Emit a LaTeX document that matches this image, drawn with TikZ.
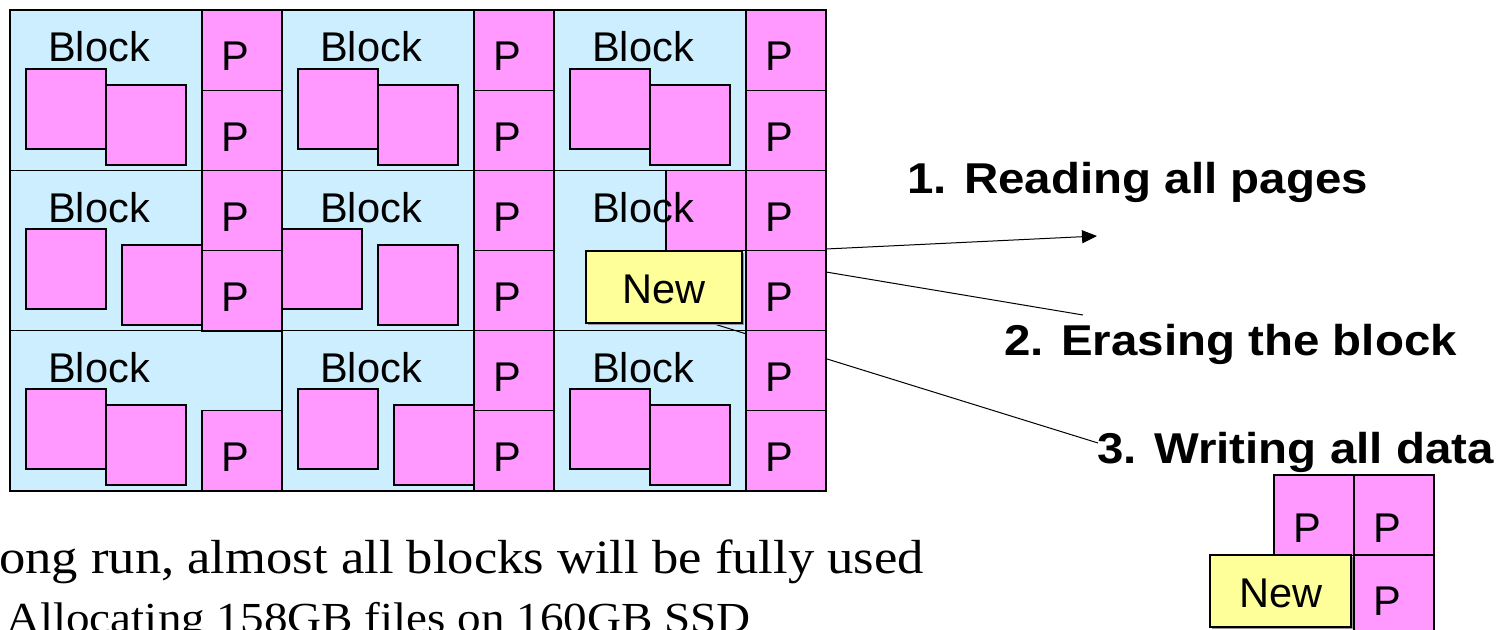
\documentclass[tikz,border=0pt]{standalone}
\usepackage{fontspec}
\setmainfont{Liberation Serif}
\newfontfamily\arialf{Liberation Sans}
\newfontfamily\labelfont{Liberation Sans}[FakeStretch=1.1]
\newfontfamily\serifst{Liberation Serif}[FakeStretch=1.1]
\usetikzlibrary{arrows.meta}
\definecolor{cyanbg}{RGB}{204,238,255}
\definecolor{pinkc}{RGB}{255,153,255}
\definecolor{yel}{RGB}{255,255,153}
\definecolor{shadowc}{RGB}{150,150,150}
\tikzset{
  blk/.style={draw=black, fill=cyanbg, line width=1.2bp, minimum width=192bp, minimum height=160.4bp, anchor=north west, inner sep=0pt, outer sep=0pt},
  sq/.style={draw=black, fill=pinkc, line width=1.2bp, minimum width=80bp, minimum height=80bp, anchor=north west, inner sep=0pt, outer sep=0pt},
  pcell/.style={draw=black, fill=pinkc, line width=1.2bp, minimum width=80bp, minimum height=80.2bp, anchor=north west, inner sep=0pt, outer sep=0pt},
  gtxt/.style={font=\arialf\fontsize{41.7}{42}\selectfont, anchor=base, inner sep=0pt},
  newbox/.style={draw=black, fill=yel, line width=1.2bp, minimum height=72bp, anchor=north west, inner sep=0pt, outer sep=0pt},
  shadowbox/.style={fill=shadowc, minimum height=72bp, anchor=north west, inner sep=0pt, outer sep=0pt},
  lbl/.style={font=\labelfont\bfseries\fontsize{43.3}{44}\selectfont, anchor=base west, inner sep=0pt},
  conn/.style={line width=1bp, draw=black},
  bodytxt/.style={anchor=base west, inner sep=0pt},
}
\begin{document}
\begin{tikzpicture}[x=1bp,y=-1bp]
\clip (0,0) rectangle (1501,630);
\fill[white] (0,0) rectangle (1501,630);

% block regions
\node[blk] (blk11) at (10,10) {};
\node[blk] (blk12) at (282,10) {};
\node[blk] (blk13) at (554,10) {};
\node[blk] (blk21) at (10,170.5) {};
\node[blk] (blk22) at (282,170.5) {};
\node[blk] (blk23) at (554,170.5) {};
\node[blk, minimum width=272bp] (blk31) at (10,330.8) {};
\node[blk] (blk32) at (282,330.8) {};
\node[blk] (blk33) at (554,330.8) {};

% connector 3 (passes under the page column)
\coordinate (c3s) at (711,323);
\coordinate (c3e) at (1098,443);
\draw[conn] (c3s) -- (c3e);

% pages inside blocks
\node[sq] (s11a) at (26,69) {};
\node[sq] (s11b) at (106,85) {};
\node[sq] (s12a) at (298,69) {};
\node[sq] (s12b) at (378,85) {};
\node[sq] (s13a) at (570,69) {};
\node[sq] (s13b) at (650,85) {};
\node[sq] (s21a) at (26,229) {};
\node[sq] (s21b) at (122,245) {};
\node[sq] (s22a) at (282,229) {};
\node[sq] (s22b) at (378,245) {};
\node[sq] (s23a) at (666,170.5) {};
\node[sq] (s31a) at (26,389) {};
\node[sq] (s31b) at (106,405) {};
\node[sq] (s32a) at (298,389) {};
\node[sq] (s32b) at (394,405) {};
\node[sq] (s33a) at (570,389) {};
\node[sq] (s33b) at (650,405) {};

% page columns
\node[pcell] (p11a) at (202,10) {};
\node[pcell] (p11b) at (202,90.2) {};
\node[pcell] (p12a) at (474,10) {};
\node[pcell] (p12b) at (474,90.2) {};
\node[pcell] (p13a) at (746,10) {};
\node[pcell] (p13b) at (746,90.2) {};
\node[pcell] (p21a) at (202,170.5) {};
\node[pcell] (p21b) at (202,250.7) {};
\node[pcell] (p22a) at (474,170.5) {};
\node[pcell] (p22b) at (474,250.7) {};
\node[pcell] (p23a) at (746,170.5) {};
\node[pcell] (p23b) at (746,250.7) {};
\node[pcell] (p31b) at (202,410.8) {};
\node[pcell] (p32a) at (474,330.8) {};
\node[pcell] (p32b) at (474,410.8) {};
\node[pcell] (p33a) at (746,330.8) {};
\node[pcell] (p33b) at (746,410.8) {};

% P texts
\node[gtxt] (tp11a) at (235.5,71) {P};
\node[gtxt] (tp11b) at (235.5,151.2) {P};
\node[gtxt] (tp12a) at (507.5,71) {P};
\node[gtxt] (tp12b) at (507.5,151.2) {P};
\node[gtxt] (tp13a) at (779.5,71) {P};
\node[gtxt] (tp13b) at (779.5,151.2) {P};
\node[gtxt] (tp21a) at (235.5,231.5) {P};
\node[gtxt] (tp21b) at (235.5,311.7) {P};
\node[gtxt] (tp22a) at (507.5,231.5) {P};
\node[gtxt] (tp22b) at (507.5,311.7) {P};
\node[gtxt] (tp23a) at (779.5,231.5) {P};
\node[gtxt] (tp23b) at (779.5,311.7) {P};
\node[gtxt] (tp31b) at (235.5,471.8) {P};
\node[gtxt] (tp32a) at (507.5,391.8) {P};
\node[gtxt] (tp32b) at (507.5,471.8) {P};
\node[gtxt] (tp33a) at (779.5,391.8) {P};
\node[gtxt] (tp33b) at (779.5,471.8) {P};

% Block texts
\node[gtxt] (tb11) at (99,62) {Block};
\node[gtxt] (tb12) at (371,62) {Block};
\node[gtxt] (tb13) at (643,62) {Block};
\node[gtxt] (tb21) at (99,222.5) {Block};
\node[gtxt] (tb22) at (371,222.5) {Block};
\node[gtxt] (tb23) at (643,222.5) {Block};
\node[gtxt] (tb31) at (99,382.8) {Block};
\node[gtxt] (tb32) at (371,382.8) {Block};
\node[gtxt] (tb33) at (643,382.8) {Block};

% New page in block
\node[shadowbox, minimum width=156bp] (nsh) at (588,253) {};
\node[newbox, minimum width=156bp] (new1) at (586,251) {};
\node[gtxt] (tnew1) at (664,303) {New};

% outer frame
\draw[line width=1.5bp] (10,10) rectangle (826,491);

% step labels and connectors
\node[lbl] (l1) at (907,194) {1. Reading all pages};
\node[lbl] (l2) at (1004,355) {2. Erasing the block};
\node[lbl] (l3) at (1097,463) {3. Writing all data};
\coordinate (c1s) at (826,249);
\coordinate (c1e) at (1097,236);
\draw[conn,-{Triangle[length=15bp,width=13bp]}] (c1s) -- (c1e);
\coordinate (c2s) at (826,272);
\coordinate (c2e) at (1083,315);
\draw[conn] (c2s) -- (c2e);

% rewritten block
\node[pcell] (m1) at (1274,475) {};
\node[pcell] (m2) at (1354,475) {};
\node[pcell] (m3) at (1354,555) {};
\node[gtxt] (tm1) at (1307.5,542) {P};
\node[gtxt] (tm2) at (1387.5,542) {P};
\node[gtxt] (tm3) at (1387.5,615) {P};
\node[shadowbox, minimum width=141bp] (msh) at (1212,557) {};
\node[newbox, minimum width=141bp] (mnew) at (1210,555) {};
\node[gtxt] (tmnew) at (1281,607) {New};

% bottom text
\node[bodytxt, font=\serifst\fontsize{48}{50}\selectfont] (txt1) at (-1,573) {ong run, almost all blocks will be fully used};
\node[bodytxt, font=\serifst\fontsize{43}{45}\selectfont] (txt2) at (6,632) {Allocating 158GB files on 160GB SSD};
\end{tikzpicture}
\end{document}
